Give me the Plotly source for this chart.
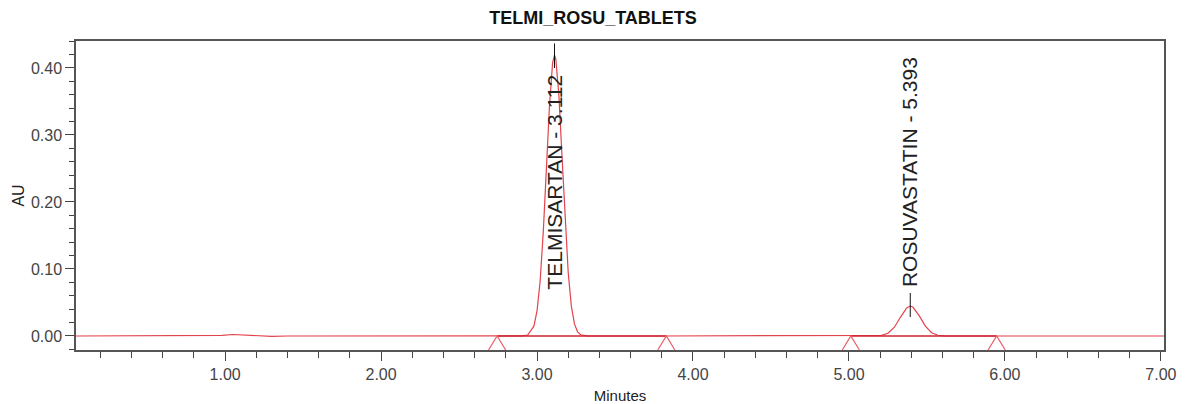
import plotly.graph_objects as go

# ---------------- data ----------------
chart_title = "TELMI_ROSU_TABLETS"

time_min = [0.044, 0.30, 0.60, 0.90, 0.98, 1.05, 1.12, 1.20, 1.30, 1.40, 2.00, 2.60, 2.86,
            2.90, 2.94, 2.98, 3.00, 3.02, 3.04, 3.06, 3.08, 3.10, 3.112, 3.12, 3.14, 3.16,
            3.18, 3.20, 3.22, 3.24, 3.26, 3.28, 3.32, 3.36, 3.80, 4.50, 5.10, 5.17, 5.21,
            5.25, 5.29, 5.33, 5.37, 5.393, 5.41, 5.45, 5.49, 5.53, 5.57, 5.61, 5.65, 6.20, 7.02]
absorbance = [0.0000, 0.0000, 0.0000, 0.0000, 0.0010, 0.0022, 0.0015, 0.0002, -0.0005, 0.0000,
              0.0000, 0.0000, 0.0000, 0.0001, 0.0014, 0.0147, 0.0376, 0.0820, 0.1550, 0.2490,
              0.3440, 0.4080, 0.4190, 0.4140, 0.3600, 0.2690, 0.1720, 0.0946, 0.0445, 0.0180,
              0.0062, 0.0019, 0.0002, 0.0000, 0.0000, 0.0000, 0.0000, 0.0001, 0.0009, 0.0040,
              0.0127, 0.0279, 0.0420, 0.0447, 0.0432, 0.0304, 0.0147, 0.0048, 0.0011, 0.0002,
              0.0000, 0.0000, 0.0000]

peak_names = ["TELMISARTAN", "ROSUVASTATIN"]
peak_rt = [3.112, 5.393]
integration_start = [2.744, 5.012]
integration_end = [3.829, 5.947]

# ---------------- layout constants ----------------
X_RANGE = [0.044, 7.02]
Y_RANGE = [-0.0209, 0.4402]
FONT = "Liberation Sans, Arial, sans-serif"
TRACE_RED = "#e2434c"
BASE_RED = "#cf2430"
MARK_RED = "#e8606a"

fig = go.Figure()

# chromatogram trace
fig.add_trace(go.Scatter(x=time_min, y=absorbance, mode="lines",
                         line=dict(color=TRACE_RED, width=1.2), hoverinfo="skip",
                         showlegend=False))

# integration baselines
bx, by = [], []
for s, e in zip(integration_start, integration_end):
    bx += [s, e, None]
    by += [0, 0, None]
fig.add_trace(go.Scatter(x=bx, y=by, mode="lines", line=dict(color=BASE_RED, width=1.4),
                         hoverinfo="skip", showlegend=False))

# integration event marks (triangles sitting on the axis)
tx, ty = [], []
half_w = 0.055
for m in integration_start + integration_end:
    tx += [m - half_w, m, m + half_w, None]
    ty += [Y_RANGE[0], 0, Y_RANGE[0], None]
fig.add_trace(go.Scatter(x=tx, y=ty, mode="lines", line=dict(color=MARK_RED, width=1.2),
                         hoverinfo="skip", showlegend=False, cliponaxis=False))

# peak labels
label_center = [0.2296, 0.245]
tick_top = [0.4365, 0.0641]
tick_bot = [0.400, 0.0283]
for name, rt, yc, t0, t1 in zip(peak_names, peak_rt, label_center, tick_top, tick_bot):
    fig.add_annotation(x=rt, y=yc, xref="x", yref="y", text=f"{name} - {rt:.3f}",
                       textangle=-90, showarrow=False, xanchor="center", yanchor="middle",
                       font=dict(family=FONT, size=21, color="#222222"))
    fig.add_shape(type="line", x0=rt, x1=rt, y0=t0, y1=t1, xref="x", yref="y",
                  line=dict(color="#111111", width=1))

axis_common = dict(showline=True, linecolor="#555555", linewidth=1.5, mirror=True,
                   showgrid=False, zeroline=False, ticks="outside", ticklen=9, tickwidth=1.3,
                   tickcolor="#444444", tickformat=".2f", automargin=False,
                   tickfont=dict(family=FONT, size=16, color="#444444"))

fig.update_layout(
    width=1186, height=404,
    margin=dict(l=76, r=22, t=41, b=54),
    plot_bgcolor="white", paper_bgcolor="white",
    title=dict(text=f"<b>{chart_title}</b>", x=0.5, xanchor="center", y=1 - 18 / 404,
               yanchor="middle", yref="container",
               font=dict(family=FONT, size=18, color="#111111")),
    xaxis=dict(range=X_RANGE, tick0=0, dtick=1,
               minor=dict(tick0=0, dtick=0.2, ticks="outside", ticklen=6, tickwidth=1.3,
                          tickcolor="#444444"),
               title=dict(text="Minutes", standoff=10,
                          font=dict(family=FONT, size=15, color="#222222")),
               **axis_common),
    yaxis=dict(range=Y_RANGE, tick0=0, dtick=0.1,
               minor=dict(tick0=0, dtick=0.02, ticks="outside", ticklen=5, tickwidth=1.3,
                          tickcolor="#444444"),
               title=dict(text="AU", standoff=2,
                          font=dict(family=FONT, size=16, color="#222222")),
               **axis_common),
)

fig.write_html("out.html")
